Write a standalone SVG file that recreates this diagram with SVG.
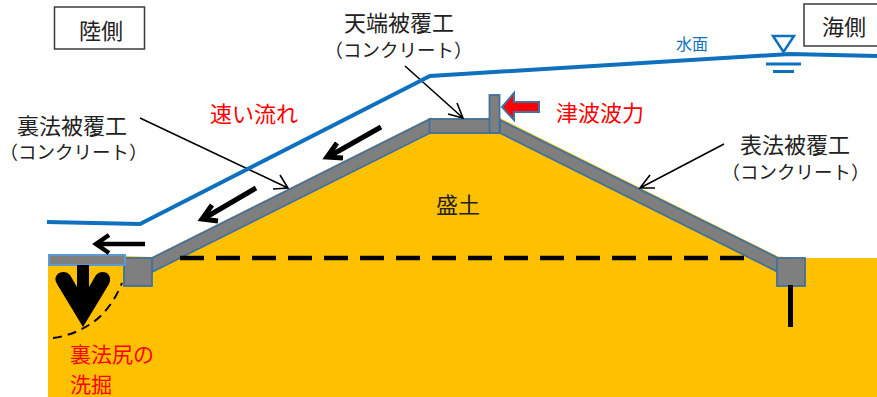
<svg xmlns="http://www.w3.org/2000/svg" width="877" height="397" viewBox="0 0 877 397">
<style>
text{font-family:"Noto Sans CJK JP","Noto Sans",sans-serif;font-size:22px;fill:#222}
.sub{font-size:18.500px}
.red{fill:#ff0000}
.scour{font-size:21px;fill:#ff0000}
.gr{fill:#7f7f7f;stroke:#41719c;stroke-width:1.800}
.arrow{fill:none;stroke:#000;stroke-width:5}
.lead{fill:none;stroke:#000;stroke-width:1.600}
.water{fill:none;stroke:#0f70be;stroke-width:4}
.box{fill:#fff;stroke:#3a3a3a;stroke-width:1.500}
</style>
<g id="embankment">
<polygon points="48,397 48,256 124,256 152,257 430,118 500,118 778,256.500 805,258 877,258 877,397" fill="#ffc000"/>
<polygon class="gr" points="152,258 430,119 430,133 152,272"/>
<polygon class="gr" points="500,120 778,258 778,272 500,133"/>
<rect class="gr" x="429.500" y="119" width="70" height="14"/>
<rect class="gr" x="489.500" y="95" width="10" height="38"/>
<rect class="gr" x="124" y="258" width="28" height="28"/>
<rect class="gr" x="777" y="258" width="28" height="28"/>
<rect x="49" y="255" width="76" height="10" fill="#7f7f7f" stroke="#5b9bd5" stroke-width="2"/>
<rect x="788" y="285" width="5" height="42" fill="#000"/>
<text x="436" y="213">盛土</text>
</g>
<g id="connectors">
<path d="M180 258H745" fill="none" stroke="#000" stroke-width="4.500" stroke-dasharray="24 12"/>
<path d="M53 338C68 336 80 331 92 323C105 314 115 300 122 283" fill="none" stroke="#000" stroke-width="2" stroke-dasharray="9 6"/>
<path class="lead" d="M140 118L288 188M273 189L288 188L280 175"/>
<path class="lead" d="M405 66L463 118M448 114L463 118L457 103"/>
<path class="lead" d="M724 144L640 188M650 175L640 188L655 188"/>
<path class="arrow" d="M381 127L328 157M337 143L327 157L343 158"/>
<path class="arrow" d="M256 188L203 219M212 205L202 219L218 221"/>
<path class="arrow" style="stroke-width:4.500" d="M145 244H96M109 235L96 244L109 253"/>
<path d="M77 265H89V287L96 275Q100 270 107 273Q112 277 109 284L83 327L57 284Q53 277 59 273Q66 270 70 275L77 287Z" fill="#000"/>
<polygon points="502,107 514,93 514,102 539,102 539,112 514,112 514,120" fill="#ff0000" stroke="#41719c" stroke-width="2"/>
</g>
<g id="water">
<path class="water" d="M47 222L140 224L430 76L790 54L877 56"/>
<path d="M773 36H794L783.500 52Z" fill="#fff" stroke="#0f70be" stroke-width="2.500"/>
<path d="M766 64H801M773 71.500H794" fill="none" stroke="#0f70be" stroke-width="3"/>
<text x="676" y="50" style="font-size:16px;fill:#0f70be">水面</text>
</g>
<g id="land-side">
<rect class="box" x="54.500" y="7" width="90" height="42"/>
<text x="79" y="39">陸側</text>
</g>
<g id="sea-side">
<rect class="box" x="804" y="4" width="80" height="42"/>
<text x="822" y="34.500">海側</text>
</g>
<g id="crest-label">
<text x="344" y="31">天端被覆工</text>
<text class="sub" x="324.500" y="56.500">（コンクリート）</text>
</g>
<g id="back-label">
<text x="17" y="134">裏法被覆工</text>
<text class="sub" x="-0.500" y="159">（コンクリート）</text>
</g>
<g id="front-label">
<text x="740" y="152.500">表法被覆工</text>
<text class="sub" x="721.500" y="179">（コンクリート）</text>
</g>
<g id="flow-label"><text class="red" x="210" y="121.500">速い流れ</text></g>
<g id="force-label"><text class="red" x="556" y="121">津波波力</text></g>
<g id="scour-label">
<text class="scour" x="70" y="361.500">裏法尻の</text>
<text class="scour" x="70" y="392">洗掘</text>
</g>
</svg>
